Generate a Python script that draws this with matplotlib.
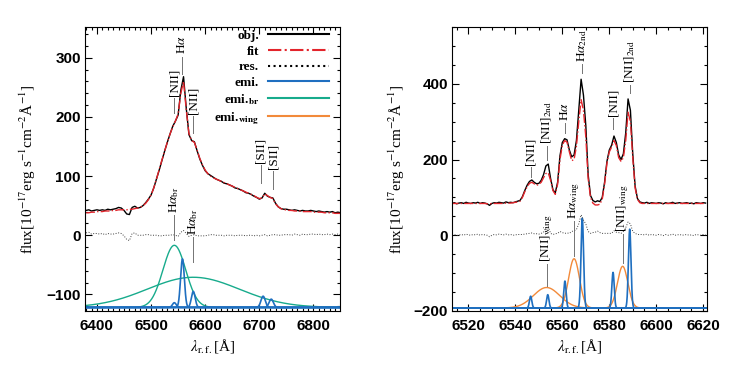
import numpy as np
import matplotlib.pyplot as plt
from matplotlib.ticker import MultipleLocator
from matplotlib.lines import Line2D

plt.rcParams['mathtext.fontset'] = 'stix'
plt.rcParams['font.family'] = ['Liberation Sans', 'DejaVu Sans']

# ---- left panel: broad-line object ----
wave_l = np.arange(6380, 6851, 5)
obj_l = [42, 43, 41, 42, 43, 42, 43, 42, 44, 43,
         44, 45, 47, 46, 42, 36, 35, 47, 49, 46,
         47, 50, 55, 61, 68, 80, 95, 110, 126, 142,
         157, 171, 184, 193, 203, 245, 268, 215, 170, 160,
         158, 143, 129, 118, 109, 104, 101, 98, 95, 93,
         91, 88, 87, 85, 83, 80, 79, 77, 75, 72,
         71, 69, 66, 64, 61, 63, 71, 66, 64, 63,
         54, 48, 45, 44, 44, 43, 42, 43, 42, 41,
         42, 41, 41, 42, 41, 40, 41, 40, 39, 40,
         39, 40, 38, 39, 38]
fit_l = [38, 38, 39, 39, 40, 40, 40, 41, 41, 41,
         42, 42, 43, 43, 43, 43, 44, 44, 45, 46,
         47, 50, 54, 60, 68, 80, 95, 111, 127, 142,
         157, 171, 183, 193, 205, 240, 260, 212, 172, 160,
         157, 144, 130, 119, 110, 104, 100, 97, 95, 93,
         91, 89, 87, 85, 83, 81, 79, 77, 75, 73,
         71, 69, 67, 64, 62, 63, 70, 67, 64, 62,
         53, 48, 45, 43, 43, 42, 42, 41, 41, 41,
         40, 40, 40, 40, 39, 39, 39, 39, 38, 38,
         38, 38, 37, 37, 37]
base_l = -122
# narrow lines: [NII], Ha, [NII], [SII], [SII]
emi_cen_l = [6543, 6558, 6578, 6707, 6722]
emi_amp_l = [8, 82, 27, 19, 14]
emi_sig_l = [3.5, 3.5, 3.5, 4.0, 4.0]
# broad Ha
br_cen_l = [6543, 6578]
br_amp_l = [105, 51]
br_sig_l = [21, 85]

# ---- right panel: double-peaked object ----
wave_r = np.arange(6512, 6622, 1)
obj_r = [85, 84, 86, 83, 85, 86, 84, 87, 85, 84,
         86, 85, 87, 84, 86, 85, 83, 79, 84, 86,
         85, 87, 86, 85, 88, 86, 87, 86, 88, 90,
         92, 102, 118, 132, 142, 146, 140, 136, 137, 145,
         160, 183, 188, 150, 120, 112, 140, 210, 245, 255,
         252, 225, 207, 212, 250, 330, 412, 370, 290, 160,
         105, 92, 88, 91, 89, 100, 140, 195, 225, 238,
         262, 245, 212, 200, 215, 270, 360, 330, 215, 130,
         97, 88, 86, 85, 87, 84, 86, 85, 84, 86,
         85, 83, 86, 84, 85, 87, 84, 85, 86, 84,
         85, 86, 84, 85, 83, 86, 85, 84, 86, 85]
fit_r = [84, 84, 84, 84, 84, 84, 84, 84, 84, 84,
         84, 84, 84, 84, 84, 84, 83, 83, 84, 84,
         84, 84, 84, 84, 85, 85, 85, 86, 87, 88,
         90, 100, 115, 128, 137, 140, 136, 132, 134, 140,
         152, 163, 165, 145, 118, 108, 135, 200, 238, 250,
         246, 220, 197, 200, 235, 300, 358, 330, 260, 150,
         100, 85, 80, 80, 82, 95, 135, 190, 220, 233,
         250, 237, 205, 195, 205, 250, 325, 300, 205, 125,
         95, 86, 84, 84, 84, 84, 84, 84, 84, 84,
         84, 84, 84, 84, 84, 84, 84, 84, 84, 84,
         84, 84, 84, 84, 84, 84, 84, 84, 84, 84]
base_r = -192
emi_cen_r = [6546.5, 6553.8, 6561.1, 6568.5, 6581.6, 6588.7]
emi_amp_r = [31, 35, 71, 237, 94, 208]
emi_sig_r = [0.5, 0.5, 0.5, 0.55, 0.5, 0.55]
wing_cen_r = [6553.3, 6565.0, 6585.7]
wing_amp_r = [54, 130, 110]
wing_sig_r = [5.6, 2.3, 2.2]

# line labels: (wavelength, line bottom, line top, text)
labels_l = [(6543, 207, 232, '[NII]'),
            (6558, 273, 302, r'H$\alpha$'),
            (6578, 173, 202, '[NII]'),
            (6703, 88, 118, '[SII]'),
            (6726, 79, 109, '[SII]'),
            (6543, -8, 34, r'H$\alpha_{\rm br}$'),
            (6578, -45, -3, r'H$\alpha_{\rm br}$')]
labels_r = [(6546.6, 155, 180, '[NII]'),
            (6553.5, 200, 235, r'[NII]$_{\rm 2nd}$'),
            (6561.1, 270, 297, r'H$\alpha$'),
            (6568.4, 428, 452, r'H$\alpha_{\rm 2nd}$'),
            (6581.6, 280, 310, '[NII]'),
            (6588.7, 375, 397, r'[NII]$_{\rm 2nd}$'),
            (6553.3, -134, -77, r'[NII]$_{\rm wing}$'),
            (6565.0, -55, 37, r'H$\alpha_{\rm wing}$'),
            (6585.7, -72, 2, r'[NII]$_{\rm wing}$')]

c_obj = 'black'
c_fit = '#e3242b'
c_emi = '#1f6fc0'
c_br = '#17ab8c'
c_wing = '#f28a3a'


def gauss(x, cen, amp, sig):
    return amp * np.exp(-0.5 * ((x - cen) / sig) ** 2)


def style_axes(ax, xmaj, xmin, ymaj, ymin):
    ax.xaxis.set_major_locator(MultipleLocator(xmaj))
    ax.xaxis.set_minor_locator(MultipleLocator(xmin))
    ax.yaxis.set_major_locator(MultipleLocator(ymaj))
    ax.yaxis.set_minor_locator(MultipleLocator(ymin))
    ax.tick_params(which='both', direction='in', top=True, right=True, width=0.8)
    ax.tick_params(which='major', length=5)
    ax.tick_params(which='minor', length=2.5)
    ax.tick_params(axis='x', labelsize=11, pad=6)
    ax.tick_params(axis='y', labelsize=11, pad=3)
    for lab in ax.get_xticklabels() + ax.get_yticklabels():
        lab.set_fontweight('bold')
    for sp in ax.spines.values():
        sp.set_linewidth(0.8)
    ax.set_xlabel(r'$\lambda_{\rm r.f.}$[Å]', family='Liberation Serif', fontsize=11)
    ax.set_ylabel(r'flux[10$^{-17}$erg s$^{-1}$cm$^{-2}$Å$^{-1}$]',
                  family='Liberation Serif', fontsize=11)
    ax.xaxis.set_label_coords(0.5, -0.09, transform=ax.transAxes)
    ax.xaxis.label.set_va('top')


def draw_panel(ax, wave, obj, fit, base, xs, narrow, broad, broad_color):
    obj = np.array(obj, dtype=float)
    fit = np.array(fit, dtype=float)
    for cen, amp, sig in broad:
        ax.plot(xs, base + gauss(xs, cen, amp, sig), color=broad_color, lw=1.0)
    for cen, amp, sig in narrow:
        ax.plot(xs, base + gauss(xs, cen, amp, sig), color=c_emi, lw=1.2)
    ax.plot(wave, obj - fit, color='0.25', lw=0.7, ls=':')
    ax.plot(wave, obj, color=c_obj, lw=1.0)
    ax.plot(wave, fit, color=c_fit, lw=1.0, ls='-.')


def draw_labels(ax, labels):
    for x, y0, y1, txt in labels:
        ax.plot([x, x], [y0, y1], color='0.45', lw=0.7)
        ax.annotate(txt, (x, y1), xytext=(0, 1.5), textcoords='offset points',
                    rotation=90, ha='center', va='bottom', fontsize=9.5,
                    family='Liberation Serif')


fig = plt.figure(figsize=(7.31, 3.66), dpi=100)
ax1 = fig.add_axes([0.1163, 0.1503, 0.3488, 0.776])
ax2 = fig.add_axes([0.6183, 0.1503, 0.3488, 0.776])

xs_l = np.linspace(6370, 6860, 3000)
draw_panel(ax1, wave_l, obj_l, fit_l, base_l, xs_l,
           zip(emi_cen_l, emi_amp_l, emi_sig_l),
           zip(br_cen_l, br_amp_l, br_sig_l), c_br)
draw_labels(ax1, labels_l)
ax1.set_xlim(6378, 6849)
ax1.set_ylim(-128, 352)
style_axes(ax1, 100, 10, 100, 20)
ax1.yaxis.set_label_coords(-0.184, 0.5, transform=ax1.transAxes)

xs_r = np.linspace(6505, 6630, 6000)
draw_panel(ax2, wave_r, obj_r, fit_r, base_r, xs_r,
           zip(emi_cen_r, emi_amp_r, emi_sig_r),
           zip(wing_cen_r, wing_amp_r, wing_sig_r), c_wing)
draw_labels(ax2, labels_r)
ax2.set_xlim(6513, 6621.6)
ax2.set_ylim(-200, 550)
style_axes(ax2, 20, 5, 200, 50)
ax2.yaxis.set_label_coords(-0.176, 0.5, transform=ax2.transAxes)

# legend
handles = [Line2D([], [], color=c_obj, lw=1.5),
           Line2D([], [], color=c_fit, lw=1.5, ls='-.'),
           Line2D([], [], color=c_obj, lw=1.5, ls=':'),
           Line2D([], [], color=c_emi, lw=1.5),
           Line2D([], [], color=c_br, lw=1.5),
           Line2D([], [], color=c_wing, lw=1.5)]
names = ['obj.', 'fit', 'res.', 'emi.', r'emi.$_\mathbf{br}$', r'emi.$_\mathbf{wing}$']
ax1.legend(handles, names, loc='upper right', bbox_to_anchor=(0.957, 0.99),
           frameon=False, markerfirst=False, handlelength=4.6, handletextpad=0.7,
           labelspacing=0.25, borderaxespad=0, borderpad=0,
           prop={'family': 'Liberation Serif', 'weight': 'bold', 'size': 9.5})

fig.savefig('out.png', dpi=100)
